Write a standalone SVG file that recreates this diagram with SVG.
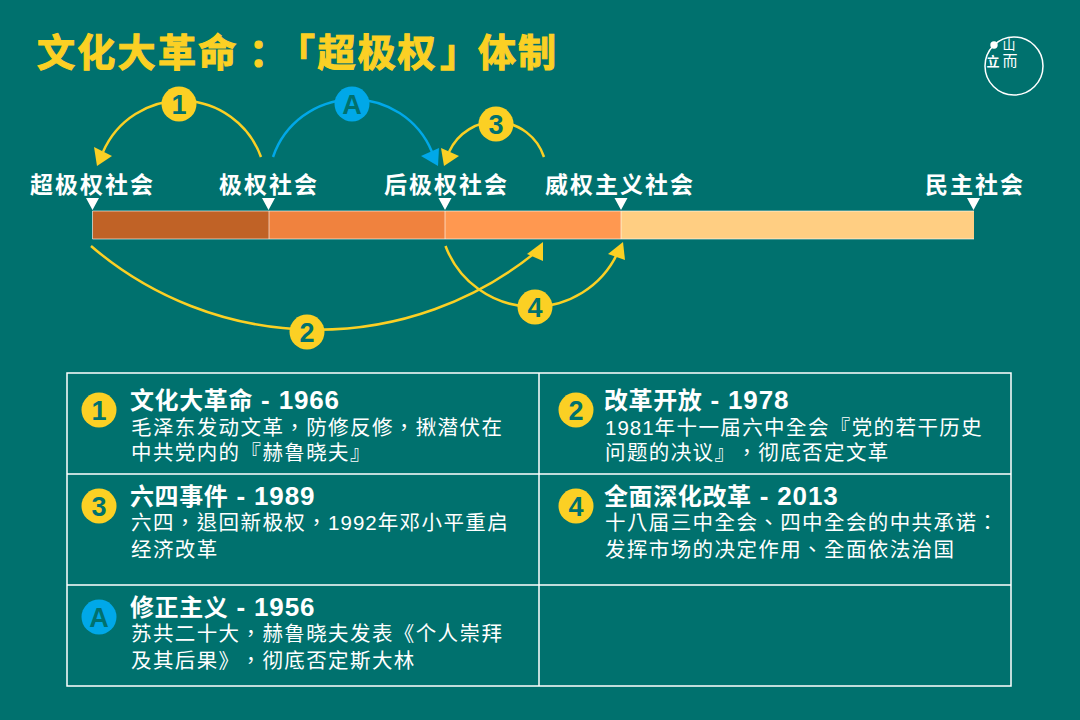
<svg xmlns="http://www.w3.org/2000/svg" width="1080" height="720" viewBox="0 0 1080 720">
<style>
text{font-family:"Liberation Sans","Noto Sans CJK TC",sans-serif;text-spacing-trim:space-all;font-feature-settings:"palt" 0}
.title{font-size:38px;font-weight:700;fill:#fbd024;stroke:#fbd024;stroke-width:1.1px;font-family:"Liberation Sans","Noto Sans CJK SC",sans-serif}
.lab{font-size:23px;font-weight:700;fill:#fff;letter-spacing:2px;font-family:"Liberation Sans","Noto Sans CJK SC",sans-serif}
.h{font-size:24px;font-weight:700;fill:#fff;letter-spacing:.6px;font-family:"Liberation Sans","Noto Sans CJK SC",sans-serif}
.l{font-size:26px;letter-spacing:.85px}
.b{font-size:20.5px;fill:#fff;letter-spacing:1.4px}
.d{letter-spacing:1px}
.n{font-size:27px;font-weight:700;fill:#00716e;text-anchor:middle}
.y{fill:#fbd024}.c{fill:#00a8e8}
.arc{fill:none;stroke-width:2.5}
.ay{stroke:#fbd024}.ac{stroke:#00a8e8}
.tri{fill:#fff}
.grid{fill:none;stroke:#fff;stroke-width:1.5}
</style>
<rect width="1080" height="720" fill="#00716e"/>
<text class="title" x="37 77.300 117.600 157.900 198.200 249 277 317.500 357.800 397.500 440 478 518" y="66" id="title">文化大革命：「超极权」体制</text>
<g id="logo" fill="#fff">
<circle cx="1014" cy="66" r="29" fill="none" stroke="#fff" stroke-width="1.500"/>
<circle cx="994" cy="45" r="3.700"/>
<text x="1009" y="49" font-size="13" text-anchor="middle" fill="#fff">山</text>
<text x="993" y="66" font-size="13" font-weight="700" text-anchor="middle" fill="#fff">立</text>
<text x="1010" y="66" font-size="15" text-anchor="middle" fill="#fff">而</text>
</g>
<g id="bar">
<rect x="92.500" y="211" width="177" height="28" fill="#c06226"/>
<rect x="269" y="211" width="176" height="28" fill="#f0823e"/>
<rect x="445" y="211" width="176" height="28" fill="#ff9850"/>
<rect x="621" y="211" width="353" height="28" fill="#ffce82"/>
<path d="M92.500 211H974M92.500 239H974M92.500 211V239M269 211V239M445 211V239M621 211V239" fill="none" stroke="#fff" stroke-opacity=".6" stroke-width="1"/>
</g>
<g id="labels">
<text class="lab" x="30" y="193">超极权社会</text>
<text class="lab" x="219" y="193">极权社会</text>
<text class="lab" x="384" y="193">后极权社会</text>
<text class="lab" x="545" y="193">威权主义社会</text>
<text class="lab" x="925" y="193">民主社会</text>
<path class="tri" d="M86 198h13l-6.500 12zM262 198h13l-6.500 12zM438.500 198h13l-6.500 12zM614.500 198h13l-6.500 12zM967 198h13l-6.500 12z"/>
</g>
<g id="connectors">
<path class="arc ay" d="M261 157A85 85 0 0 0 103 152"/>
<path class="y" d="M97 166L94 147L112 156Z"/>
<path class="arc ac" d="M273 157A85 85 0 0 1 432 152"/>
<path class="c" d="M438 166L421 156L439 148Z"/>
<path class="arc ay" d="M544 157A51 51 0 0 0 449 152"/>
<path class="y" d="M444 166L441 148L459 156Z"/>
<path class="arc ay" d="M91 246A347 347 0 0 0 536 252"/>
<path class="y" d="M543 242L527 254L543 261Z"/>
<path class="arc ay" d="M445.500 246A93.400 93.400 0 0 0 618 252"/>
<path class="y" d="M623 242L608 254L625 260Z"/>
</g>
<g id="badge-1"><circle class="y" cx="179" cy="104" r="17.500"/><text class="n" x="179" y="114">1</text></g>
<g id="badge-a"><circle class="c" cx="352" cy="104" r="17.500"/><text class="n" x="352" y="114">A</text></g>
<g id="badge-3"><circle class="y" cx="496" cy="124" r="17.500"/><text class="n" x="496" y="134">3</text></g>
<g id="badge-2"><circle class="y" cx="307" cy="332" r="17.500"/><text class="n" x="307" y="342">2</text></g>
<g id="badge-4"><circle class="y" cx="535" cy="307" r="17.500"/><text class="n" x="535" y="317">4</text></g>
<path id="table" class="grid" d="M67 373H1011V686H67ZM67 474H1011M67 585H1011M539 373V686"/>
<g id="card-1"><circle class="y" cx="99" cy="410" r="17.500"/><text class="n" x="99" y="420">1</text>
<text class="h" x="130" y="409">文化大革命<tspan class="l"> - 1966</tspan></text>
<text class="b" x="131" y="435">毛泽东发动文革，防修反修，揪潜伏在</text>
<text class="b" x="131" y="460">中共党内的『赫鲁晓夫』</text></g>
<g id="card-2"><circle class="y" cx="576" cy="410" r="17.500"/><text class="n" x="576" y="420">2</text>
<text class="h" x="604" y="409">改革开放<tspan class="l"> - 1978</tspan></text>
<text class="b" x="605" y="435"><tspan class="d">1981</tspan>年十一届六中全会『党的若干历史</text>
<text class="b" x="605" y="460">问题的决议』，彻底否定文革</text></g>
<g id="card-3"><circle class="y" cx="99" cy="506" r="17.500"/><text class="n" x="99" y="516">3</text>
<text class="h" x="130" y="505">六四事件<tspan class="l"> - 1989</tspan></text>
<text class="b" x="131" y="530">六四，退回新极权，<tspan class="d">1992</tspan>年邓小平重启</text>
<text class="b" x="131" y="557">经济改革</text></g>
<g id="card-4"><circle class="y" cx="576" cy="506" r="17.500"/><text class="n" x="576" y="516">4</text>
<text class="h" x="604" y="505">全面深化改革<tspan class="l"> - 2013</tspan></text>
<text class="b" x="605" y="530">十八届三中全会、四中全会的中共承诺：</text>
<text class="b" x="605" y="557">发挥市场的决定作用、全面依法治国</text></g>
<g id="card-a"><circle class="c" cx="99" cy="617" r="17.500"/><text class="n" x="99" y="627">A</text>
<text class="h" x="130" y="616">修正主义<tspan class="l"> - 1956</tspan></text>
<text class="b" x="131" y="641">苏共二十大，赫鲁晓夫发表《个人崇拜</text>
<text class="b" x="131" y="668">及其后果》，彻底否定斯大林</text></g>
</svg>
